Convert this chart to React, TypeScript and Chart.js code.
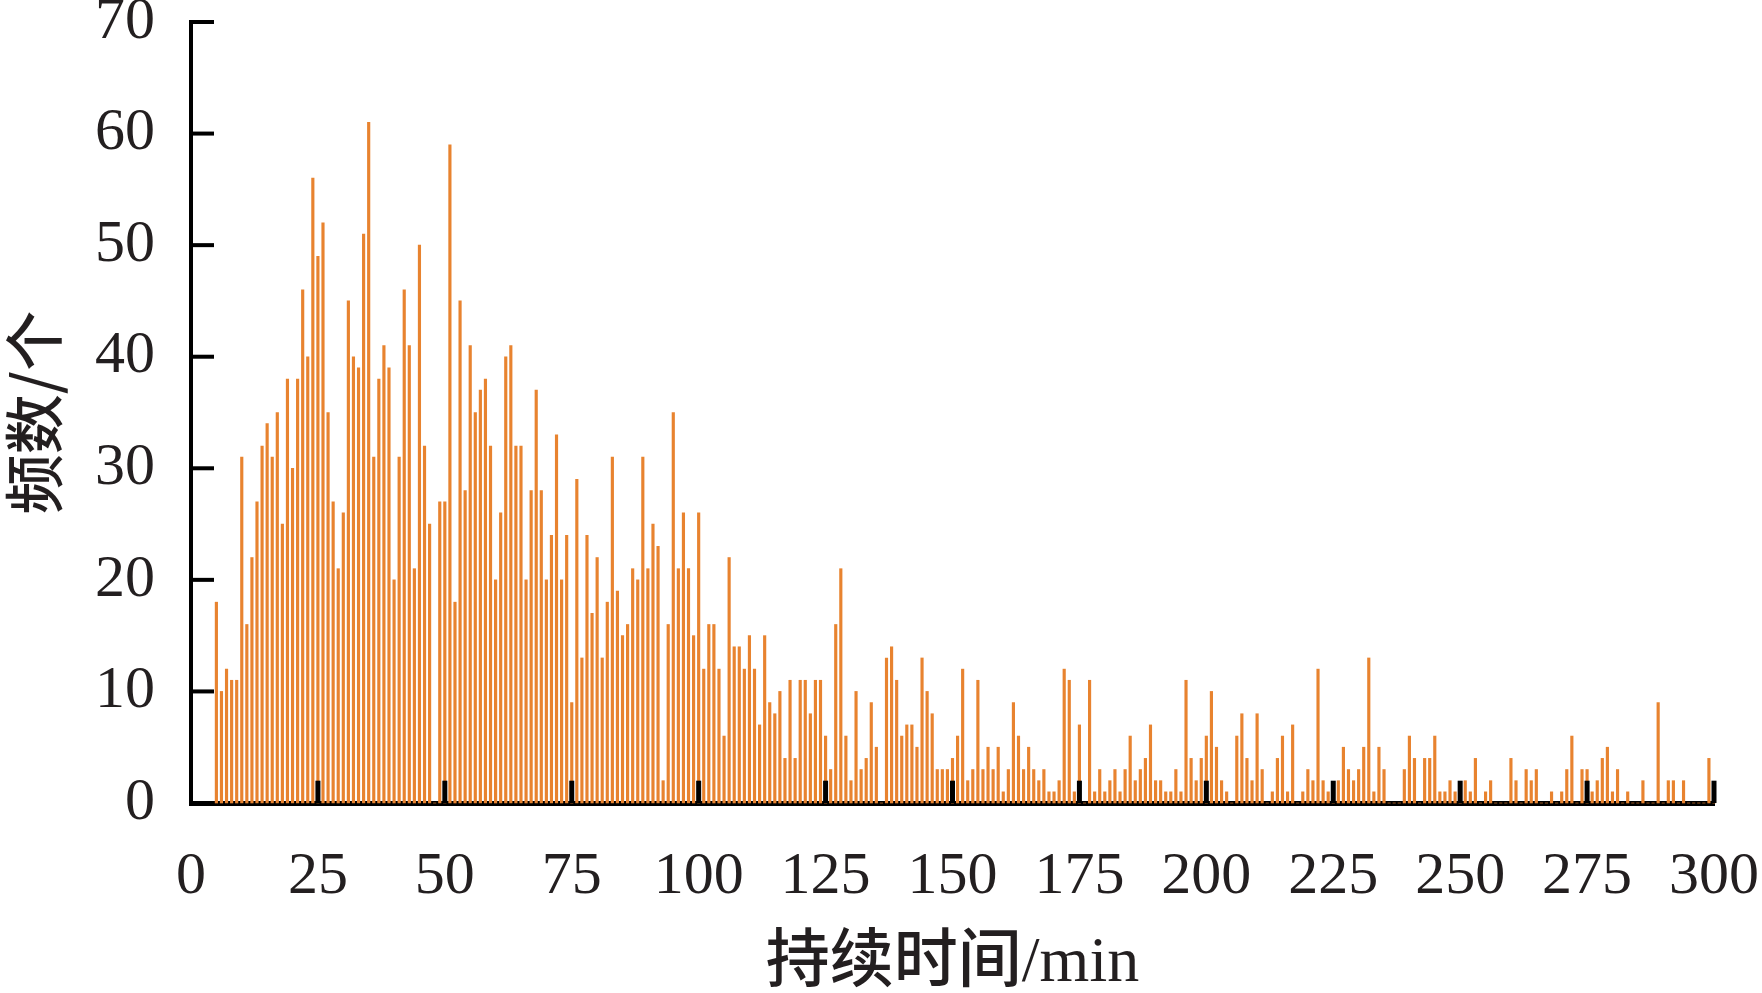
import { useEffect, useRef } from 'react'
import { Chart, registerables } from 'chart.js'

Chart.register(...registerables)

// first bar is at 5 min, then one bar per minute up to 300 min
const FIRST_MINUTE = 5
const FREQUENCY = [
  18, 10, 12, 11, 11, 31, 16, 22, 27, 32,
  34, 31, 35, 25, 38, 30, 38, 46, 40, 56,
  49, 52, 35, 27, 21, 26, 45, 40, 39, 51,
  61, 31, 38, 41, 39, 20, 31, 46, 41, 21,
  50, 32, 25, 0, 27, 27, 59, 18, 45, 28,
  41, 35, 37, 38, 32, 20, 26, 40, 41, 32,
  32, 20, 28, 37, 28, 20, 24, 33, 20, 24,
  9, 29, 13, 24, 17, 22, 13, 18, 31, 19,
  15, 16, 21, 20, 31, 21, 25, 23, 2, 16,
  35, 21, 26, 21, 15, 26, 12, 16, 16, 12,
  6, 22, 14, 14, 12, 15, 12, 7, 15, 9,
  8, 10, 4, 11, 4, 11, 11, 8, 11, 11,
  6, 3, 16, 21, 6, 2, 10, 3, 4, 9,
  5, 0, 13, 14, 11, 6, 7, 7, 5, 13,
  10, 8, 3, 3, 3, 4, 6, 12, 2, 3,
  11, 3, 5, 3, 5, 1, 3, 9, 6, 3,
  5, 3, 2, 3, 1, 1, 2, 12, 11, 1,
  7, 0, 11, 1, 3, 1, 2, 3, 1, 3,
  6, 2, 3, 4, 7, 2, 2, 1, 1, 3,
  1, 11, 4, 2, 4, 6, 10, 5, 2, 1,
  0, 6, 8, 4, 2, 8, 3, 0, 1, 4,
  6, 1, 7, 0, 1, 3, 2, 12, 2, 1,
  0, 2, 5, 3, 2, 3, 5, 13, 1, 5,
  3, 0, 0, 0, 3, 6, 4, 0, 4, 4,
  6, 1, 1, 2, 1, 0, 2, 1, 4, 0,
  1, 2, 0, 0, 0, 4, 2, 0, 3, 2,
  3, 0, 0, 1, 0, 1, 3, 6, 0, 3,
  3, 1, 2, 4, 5, 1, 3, 0, 1, 0,
  0, 2, 0, 0, 9, 0, 2, 2, 0, 2,
  0, 0, 0, 0, 4, 1,
]

const X_TICKS = [0, 25, 50, 75, 100, 125, 150, 175, 200, 225, 250, 275, 300]
const Y_TICKS = [0, 10, 20, 30, 40, 50, 60, 70]

const X_TITLE = '持续时间/min'
const Y_TITLE = '频数/个'

const BAR_COLOR = '#E8832F'
const INK = '#231F20'
const FONT = '"Liberation Serif", "Noto Sans CJK SC", serif'
const Y_TITLE_FONT = '"Noto Sans CJK SC", "Liberation Serif", serif'

// the original draws its tick marks inside the plot: y ticks point right, x ticks point up
const innerTicks = {
  id: 'innerTicks',
  afterDatasetsDraw(chart: any) {
    const { ctx, chartArea, scales } = chart
    const xs = scales.x
    const ys = scales.y
    ctx.save()
    ctx.fillStyle = '#000'
    Y_TICKS.forEach((v) => {
      if (v === 0) return
      const py = ys.getPixelForValue(v)
      ctx.fillRect(chartArea.left, py - 2, 23, 4)
    })
    const h = ys.getPixelForValue(0) - ys.getPixelForValue(2)
    X_TICKS.forEach((v) => {
      if (v === 0) return
      const px = xs.getPixelForValue(v)
      ctx.fillRect(px - 2.5, chartArea.bottom - h, 5, h)
    })
    ctx.restore()
  },
}

export default function App() {
  const canvasRef = useRef<HTMLCanvasElement>(null)

  useEffect(() => {
    document.body.style.margin = '0'
    document.body.style.overflow = 'hidden'
    if (!canvasRef.current) return

    const chart = new Chart(canvasRef.current, {
      type: 'bar',
      data: {
        datasets: [
          {
            data: FREQUENCY.map((v, i) => ({ x: FIRST_MINUTE + i, y: v })),
            backgroundColor: BAR_COLOR,
            borderWidth: 0,
            barThickness: 2.5,
            clip: false,
          } as any,
        ],
      },
      options: {
        animation: false,
        responsive: true,
        maintainAspectRatio: false,
        layout: { padding: { top: 22, right: 48, bottom: 0, left: 0 } },
        plugins: {
          legend: { display: false },
          tooltip: { enabled: false },
        },
        scales: {
          x: {
            type: 'linear',
            min: 0,
            max: 300,
            offset: false,
            grid: { display: false, drawTicks: false },
            border: { display: true, color: '#000', width: 5 },
            afterBuildTicks: (s: any) => {
              s.ticks = X_TICKS.map((value) => ({ value }))
            },
            afterFit: (s: any) => {
              s.height = 190
              s.paddingLeft = 0
              s.paddingRight = 0
            },
            ticks: {
              color: INK,
              padding: 38,
              maxRotation: 0,
              autoSkip: false,
              font: { family: FONT, size: 60, lineHeight: 1.2 },
            },
            title: {
              display: true,
              text: X_TITLE,
              color: INK,
              padding: 0,
              font: { family: FONT, size: 64, weight: 500, lineHeight: 0.9 },
            },
          },
          y: {
            min: 0,
            max: 70,
            grid: { display: false, drawTicks: false },
            border: { display: true, color: '#000', width: 4 },
            afterBuildTicks: (s: any) => {
              s.ticks = Y_TICKS.map((value) => ({ value }))
            },
            afterFit: (s: any) => {
              s.width = 191
              s.paddingTop = 0
              s.paddingBottom = 0
            },
            ticks: {
              color: INK,
              padding: 36,
              font: { family: FONT, size: 60, lineHeight: 1.2 },
            },
            title: {
              display: true,
              text: Y_TITLE,
              color: INK,
              padding: { top: 4, bottom: 0 },
              font: { family: Y_TITLE_FONT, size: 60, weight: 500, lineHeight: 1 },
            },
          },
        },
      },
      plugins: [innerTicks],
    })

    return () => {
      chart.destroy()
    }
  }, [])

  return (
    <div style={{ width: 1762, height: 993, position: 'relative', background: '#fff' }}>
      <canvas ref={canvasRef} />
    </div>
  )
}
